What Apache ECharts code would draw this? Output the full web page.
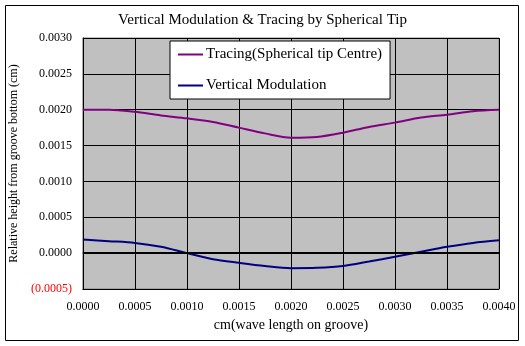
<!DOCTYPE html>
<html>
<head>
<meta charset="utf-8">
<script src="https://cdn.jsdelivr.net/npm/echarts@6/dist/echarts.min.js"></script>
<style>
html,body{margin:0;padding:0;background:#fff;}
#chart{width:525px;height:346px;}
</style>
</head>
<body>
<div id="chart"></div>
<script>
// Data
const xValues = [0, 0.00025, 0.0005, 0.00075, 0.001, 0.00125, 0.0015, 0.00175, 0.002, 0.00225, 0.0025, 0.00275, 0.003, 0.00325, 0.0035, 0.00375, 0.004];
const tracing = [0.00200, 0.00200, 0.00197, 0.00192, 0.00188, 0.00183, 0.00175, 0.00167, 0.00161, 0.00162, 0.00168, 0.00176, 0.00182, 0.00189, 0.00193, 0.00198, 0.00200];
const verticalMod = [0.00019, 0.000167, 0.000143, 0.000088, 0.0, -0.000084, -0.000135, -0.00018, -0.00021, -0.000205, -0.00018, -0.000117, -0.00005, 0.00002, 0.000088, 0.000143, 0.00018];
const seriesNames = ['Tracing(Spherical tip Centre)', 'Vertical Modulation'];
const titleText = 'Vertical Modulation & Tracing by Spherical Tip';
const xAxisName = 'cm(wave length on groove)';
const yAxisName = 'Relative height from groove bottom (cm)';

const FONT = 'Liberation Serif, Times New Roman, serif';
const pairs = arr => xValues.map((x, i) => [x, arr[i]]);

const chart = echarts.init(document.getElementById('chart'), null, {renderer: 'canvas'});
chart.setOption({
  animation: false,
  backgroundColor: '#fff',
  textStyle: {fontFamily: FONT, color: '#000'},
  title: {
    text: titleText,
    left: 'center',
    top: 13,
    padding: 0,
    textStyle: {fontFamily: FONT, fontSize: 15, fontWeight: 'normal', color: '#000'}
  },
  graphic: [
    {type: 'rect', shape: {x: 5.5, y: 5.5, width: 513, height: 335}, style: {fill: 'none', stroke: '#000', lineWidth: 1}, z: 100}
  ],
  grid: {
    left: 80, right: 26, top: 38, bottom: 57,
    show: true, backgroundColor: '#c0c0c0', borderColor: '#808080', borderWidth: 1
  },
  legend: {
    orient: 'vertical',
    left: 170, top: 41,
    padding: [6, 8, 6, 8],
    itemGap: 16,
    itemWidth: 25, itemHeight: 2,
    icon: 'rect',
    backgroundColor: '#fff',
    borderColor: '#000', borderWidth: 1,
    textStyle: {fontFamily: FONT, fontSize: 15, color: '#000', padding: [0, 0, 0, -2]},
    data: seriesNames
  },
  xAxis: {
    type: 'value',
    min: 0, max: 0.004, interval: 0.0005,
    name: xAxisName, nameLocation: 'middle', nameGap: 25,
    nameTextStyle: {fontFamily: FONT, fontSize: 14, color: '#000'},
    axisLine: {onZero: false, lineStyle: {color: '#000', width: 1}},
    axisTick: {show: false},
    splitLine: {show: true, lineStyle: {color: '#000', width: 1}},
    axisLabel: {fontFamily: FONT, fontSize: 12, color: '#000', margin: 12, formatter: v => v.toFixed(4)}
  },
  yAxis: {
    type: 'value',
    min: -0.0005, max: 0.003, interval: 0.0005,
    name: yAxisName, nameLocation: 'middle', nameGap: 58,
    nameTextStyle: {fontFamily: FONT, fontSize: 12, color: '#000'},
    axisLine: {show: true, lineStyle: {color: '#000', width: 1}},
    axisTick: {show: false},
    splitLine: {show: true, lineStyle: {color: '#000', width: 1}},
    axisLabel: {
      fontFamily: FONT, fontSize: 12, color: '#000', margin: 11,
      formatter: v => v < 0 ? '{r|(' + Math.abs(v).toFixed(4) + ')}' : v.toFixed(4),
      rich: {r: {color: '#ff0000', fontFamily: FONT, fontSize: 12}}
    }
  },
  series: [
    {
      name: seriesNames[0], type: 'line', data: pairs(tracing),
      smooth: 0.3, symbol: 'none',
      itemStyle: {color: '#800080'},
      lineStyle: {color: '#800080', width: 2},
      markLine: {
        silent: true, symbol: 'none', label: {show: false},
        lineStyle: {color: '#000', width: 2, type: 'solid'},
        data: [{yAxis: 0}]
      },
      z: 3
    },
    {
      name: seriesNames[1], type: 'line', data: pairs(verticalMod),
      smooth: 0.3, symbol: 'none',
      itemStyle: {color: '#000080'},
      lineStyle: {color: '#000080', width: 2},
      z: 3
    }
  ]
});
</script>
</body>
</html>
